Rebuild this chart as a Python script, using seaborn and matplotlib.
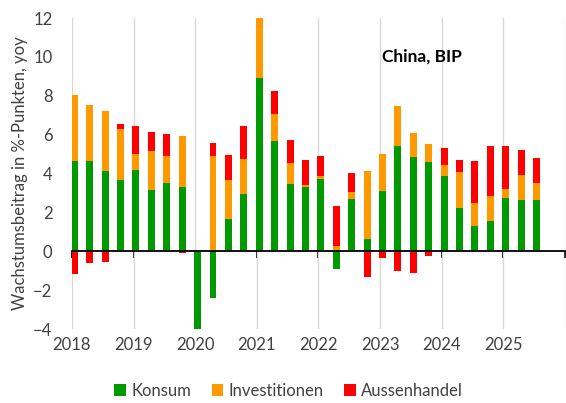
import numpy as np
import seaborn as sns
import matplotlib.pyplot as plt

# quarterly contributions to China's real GDP growth, 2018Q1 - 2025Q3
years = list(range(2018, 2027))
quarters = [f"{y}Q{q}" for y in range(2018, 2026) for q in range(1, 5)][:31]
konsum = [4.65, 4.65, 4.13, 3.67, 4.19, 3.14, 3.50, 3.31,
          -4.40, -2.38, 1.68, 2.97, 8.92, 5.69, 3.46, 3.33,
          3.72, -0.93, 2.71, 0.65, 3.12, 5.44, 4.85, 4.61,
          3.88, 2.20, 1.30, 1.54, 2.73, 2.64, 2.64]
investitionen = [3.40, 2.86, 3.10, 2.64, 0.82, 2.04, 1.41, 2.62,
                 0.00, 4.91, 1.97, 1.80, 4.00, 1.36, 1.06, 0.07,
                 0.14, 0.26, 0.36, 3.50, 1.87, 2.04, 1.24, 0.89,
                 0.58, 1.89, 1.18, 1.30, 0.48, 1.30, 0.89]
aussenhandel = [-1.17, -0.62, -0.57, 0.24, 1.42, 0.94, 1.11, -0.10,
                0.00, 0.67, 1.29, 1.65, 5.00, 1.18, 1.22, 1.32,
                1.03, 2.06, 0.94, -1.34, -0.33, -1.01, -1.11, -0.22,
                0.87, 0.63, 2.14, 2.59, 2.21, 1.27, 1.29]

series = [("Konsum", konsum, "#009900"),
          ("Investitionen", investitionen, "#FF9900"),
          ("Aussenhandel", aussenhandel, "#FF0000")]

sns.set_theme(style="white")
plt.rcParams['font.family'] = ['Lato', 'DejaVu Sans']
txt = "#404040"

fig = plt.figure(figsize=(5.66, 4.03), dpi=100)
ax = fig.add_axes([0.127, 0.1836, 0.871, 0.7717])

x = np.array([2018 + i / 4 for i in range(len(quarters))]) + 0.04
pos = np.zeros(len(x))
neg = np.zeros(len(x))
for name, vals, col in series:
    v = np.array(vals)
    base = np.where(v >= 0, pos, neg)
    ax.bar(x, v, bottom=base, width=0.113, color=col, label=name,
           linewidth=0, zorder=3)
    pos = pos + np.clip(v, 0, None)
    neg = neg + np.clip(v, None, 0)

ax.set_xlim(2018, 2026)
ax.set_ylim(-4, 12)
ax.set_yticks(range(-4, 13, 2))
for x_ in years:
    ax.axvline(x_, color="#d9d9d9", lw=1, zorder=1)

for s in ["left", "right", "top"]:
    ax.spines[s].set_visible(False)
ax.spines["bottom"].set_position(("data", 0))
ax.spines["bottom"].set_color("black")
ax.spines["bottom"].set_linewidth(1.3)
ax.spines["bottom"].set_zorder(4)
ax.set_xticks(years)
ax.tick_params(axis="x", bottom=True, length=5, width=1.3, color="black",
               labelbottom=False)
ax.tick_params(axis="y", length=0, pad=14, labelsize=12, labelcolor=txt)

sec = ax.secondary_xaxis("bottom")
sec.set_xticks(years[:-1])
sec.set_xticklabels([str(y) for y in years[:-1]])
sec.spines["bottom"].set_visible(False)
sec.tick_params(length=0, pad=6, labelsize=12, labelcolor=txt)

ax.set_ylabel("Wachstumsbeitrag in %-Punkten, yoy", fontsize=12, color=txt)
ax.yaxis.set_label_coords(-0.089, 0.5)

ax.text(2023.03, 10.0, "China, BIP", fontsize=12.5, fontweight="bold",
        color="black", va="center", ha="left")

fig.legend(loc="center", bbox_to_anchor=(0.51, 0.03), ncol=3, frameon=False,
           fontsize=12, handlelength=0.7, handleheight=0.7, handletextpad=0.3,
           columnspacing=1.25, labelcolor=txt)

fig.savefig("out.png", dpi=100, facecolor="white")
